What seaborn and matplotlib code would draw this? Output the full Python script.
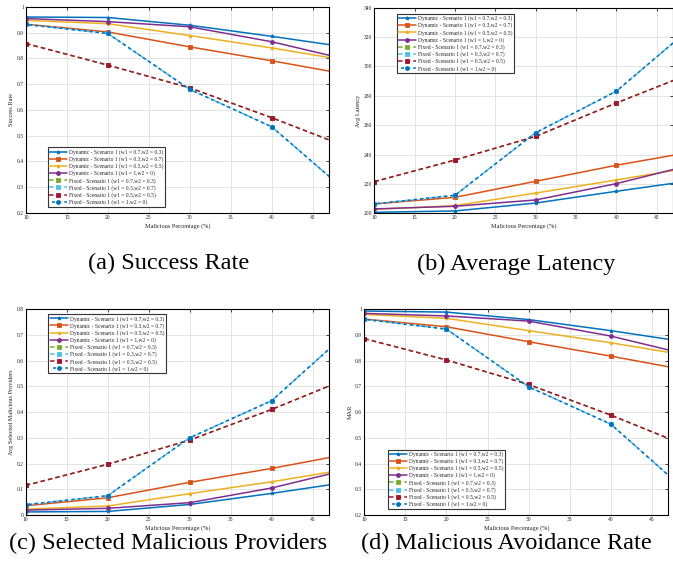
import numpy as np
import pandas as pd
import matplotlib
matplotlib.use("Agg")
import matplotlib.pyplot as plt
import seaborn as sns

sns.set_theme(style="whitegrid")
plt.rcParams["font.family"] = ["Liberation Serif", "DejaVu Serif"]

# x positions (malicious percentage)
malicious_pct = [10, 20, 30, 40, 50]

series_labels = [
    "Dynamic - Scenario 1 (w1 = 0.7,w2 = 0.3)",
    "Dynamic - Scenario 1 (w1 = 0.3,w2 = 0.7)",
    "Dynamic - Scenario 1 (w1 = 0.5,w2 = 0.5)",
    "Dynamic - Scenario 1 (w1 = 1,w2 = 0)",
    "Fixed - Scenario 1 (w1 = 0.7,w2 = 0.3)",
    "Fixed - Scenario 1 (w1 = 0.3,w2 = 0.7)",
    "Fixed - Scenario 1 (w1 = 0.5,w2 = 0.5)",
    "Fixed - Scenario 1 (w1 = 1,w2 = 0)",
]

# values, one list per series (same order as labels)
success_rate = [
    [0.961, 0.959, 0.929, 0.886, 0.840],
    [0.933, 0.903, 0.845, 0.791, 0.734],
    [0.948, 0.935, 0.889, 0.841, 0.788],
    [0.955, 0.943, 0.923, 0.865, 0.790],
    [0.858, 0.774, 0.686, 0.570, 0.447],
    [0.932, 0.897, 0.680, 0.535, 0.260],
    [0.858, 0.774, 0.686, 0.570, 0.447],
    [0.932, 0.897, 0.680, 0.535, 0.260],
]

avg_latency = [
    [200.7, 201.6, 207.0, 215.0, 222.7],
    [206.4, 210.9, 221.8, 232.7, 242.4],
    [202.7, 205.2, 213.8, 222.7, 231.8],
    [203.0, 204.8, 209.1, 220.2, 233.9],
    [221.6, 236.3, 252.4, 275.1, 296.8],
    [206.4, 212.3, 254.9, 283.1, 329.8],
    [221.6, 236.3, 252.4, 275.1, 296.8],
    [206.4, 212.3, 254.9, 283.1, 329.8],
]

selected_malicious = [
    [0.012, 0.014, 0.041, 0.084, 0.131],
    [0.036, 0.067, 0.127, 0.181, 0.241],
    [0.023, 0.035, 0.083, 0.129, 0.182],
    [0.019, 0.026, 0.048, 0.105, 0.182],
    [0.115, 0.197, 0.291, 0.410, 0.540],
    [0.040, 0.075, 0.300, 0.444, 0.730],
    [0.115, 0.197, 0.291, 0.410, 0.540],
    [0.040, 0.075, 0.300, 0.444, 0.730],
]

mar = [
    [0.992, 0.988, 0.959, 0.916, 0.868],
    [0.961, 0.931, 0.873, 0.817, 0.758],
    [0.979, 0.964, 0.916, 0.869, 0.816],
    [0.983, 0.973, 0.953, 0.895, 0.818],
    [0.885, 0.802, 0.707, 0.588, 0.459],
    [0.960, 0.922, 0.698, 0.553, 0.270],
    [0.885, 0.802, 0.707, 0.588, 0.459],
    [0.960, 0.922, 0.698, 0.553, 0.270],
]

colors = ["#0072BD", "#D95319", "#EDB120", "#7E2F8E",
          "#77AC30", "#4DBEEE", "#A2142F", "#0072BD"]
markers = ["*", "s", "*", "o", "s", "s", "s", "o"]
styles = ["-", "-", "-", "-", (0, (3, 2)), (0, (3, 2)), (0, (3, 2)), (2, (2, 2))]

panels = [
    # values, ylabel, ylim, yticks, caption, axes rect, caption x/y, legend loc, legend anchor
    (success_rate, "Success Rate", (0.2, 1.0), np.arange(0.2, 1.01, 0.1),
     "(a) Success Rate", [0.0386, 0.6296, 0.4502, 0.3583], (0.250, 0.541),
     "lower left", (0.072, 0.03)),
    (avg_latency, "Avg Latency", (200, 340), np.arange(200, 341, 20),
     "(b) Average Latency", [0.5562, 0.6290, 0.4434, 0.3576], (0.767, 0.541),
     "upper left", (0.075, 0.97)),
    (selected_malicious, "Avg Selected Malicious Providers", (0, 0.8), np.arange(0, 0.81, 0.1),
     "(c) Selected Malicious Providers", [0.0382, 0.1043, 0.4507, 0.3583], (0.250, 0.055),
     "upper left", (0.075, 0.975)),
    (mar, "MAR", (0.2, 1.0), np.arange(0.2, 1.01, 0.1),
     "(d) Malicious Avoidance Rate", [0.5413, 0.1043, 0.4517, 0.3583], (0.752, 0.055),
     "lower left", (0.077, 0.03)),
]

fig = plt.figure(figsize=(6.73, 5.75), dpi=100)

for values, ylabel, ylim, yticks, caption, rect, cap_xy, loc, anchor in panels:
    ax = fig.add_axes(rect)
    ax.set_facecolor("white")
    for i, label in enumerate(series_labels):
        sns.lineplot(x=malicious_pct, y=values[i], ax=ax, color=colors[i],
                     linestyle=styles[i], marker=markers[i], markersize=2.8,
                     markeredgewidth=0.6, markeredgecolor=colors[i],
                     linewidth=1.1, label=label)
    ax.set_xlim(10, 47)
    ax.set_ylim(*ylim)
    ax.set_xticks(range(10, 46, 5))
    ax.set_yticks(yticks)
    ax.set_yticklabels(["{:g}".format(round(v, 2)) for v in yticks])
    ax.tick_params(axis="both", labelsize=4, direction="in", length=2, width=0.5,
                   pad=1.5, top=True, right=True, colors="black", labelcolor="#222222")
    ax.grid(True, color="#dedede", linewidth=0.6)
    for sp in ax.spines.values():
        sp.set_visible(True)
        sp.set_color("black")
        sp.set_linewidth(0.8)
    ax.set_xlabel("Malicious Percentage (%)", fontsize=4.5, labelpad=2, color="#222222")
    ax.set_ylabel(ylabel, fontsize=4.5, labelpad=2, color="#222222")
    leg = ax.legend(loc=loc, bbox_to_anchor=anchor, fontsize=4, frameon=True,
                    fancybox=False, edgecolor="#333333", framealpha=1,
                    handlelength=3.2, handletextpad=0.3, labelspacing=0.25,
                    borderpad=0.3, borderaxespad=0)
    leg.get_frame().set_linewidth(0.8)
    fig.text(cap_xy[0], cap_xy[1], caption, ha="center", va="center",
             fontsize=17.5, color="black")

fig.savefig("out.png", dpi=100)
